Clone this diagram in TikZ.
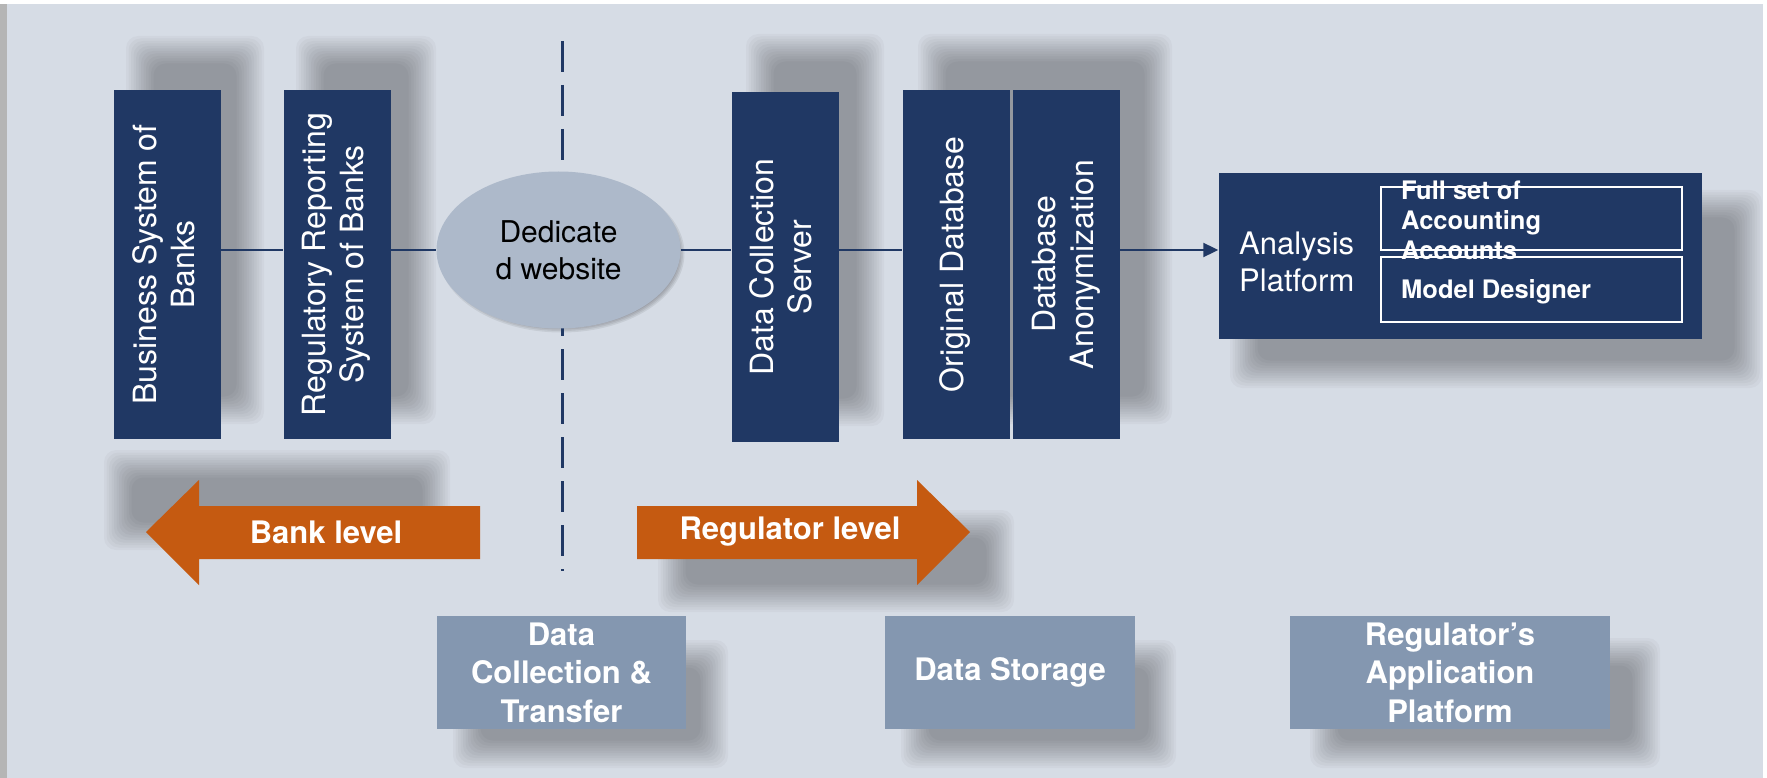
\documentclass[tikz,border=0pt]{standalone}
\usepackage{graphicx}
\usepackage{fontspec}
\setmainfont{TeX Gyre Heros}
\usetikzlibrary{arrows.meta,shapes.geometric}

\definecolor{navy}{RGB}{32,56,100}
\definecolor{paper}{RGB}{214,220,229}
\definecolor{oval}{RGB}{173,185,202}
\definecolor{slate}{RGB}{132,151,176}
\definecolor{rust}{RGB}{197,90,17}
\definecolor{edge}{RGB}{181,181,181}

\newcommand{\vlines}[1]{\rotatebox{90}{\begin{tabular}{@{}c@{}}#1\end{tabular}}}
% soft shadow: outer corners of the haze
\newcommand{\haze}[4]{%
  \foreach \k in {0,...,11}
    \fill[black, opacity=0.027, rounded corners=12pt]
      ({#1+2.5*\k},{#2+2.5*\k}) rectangle ({#3-2.5*\k},{#4-2.5*\k});}

\tikzset{
  sysbox/.style={fill=navy, text=white, inner sep=0pt, minimum width=107pt,
    minimum height=349pt, font=\fontsize{32}{38}\selectfont},
  stagebox/.style={fill=slate, text=white, inner sep=0pt, minimum height=113pt,
    align=center, font=\fontsize{31}{38.5}\selectfont\bfseries},
  subbox/.style={draw=white, line width=2pt, minimum width=301pt, inner sep=0pt},
  link/.style={draw=navy, line width=2pt},
  cutline/.style={draw=navy, line width=3pt, dash pattern=on 31pt off 13pt},
  leveltext/.style={text=white, font=\fontsize{31}{37}\selectfont\bfseries},
}

\begin{document}
\begin{tikzpicture}[x=1pt,y=-1pt]

  % Page and backdrop.
  \useasboundingbox (0,0) rectangle (1767,778);
  \fill[white] (0,0) rectangle (1767,778);
  \fill[paper] (7,4) rectangle (1763,778);
  \fill[edge] (0,4) rectangle (7,778);

  % Shadows.
  \haze{126}{36}{264}{424}
  \haze{296}{36}{436}{424}
  \haze{746}{34}{884}{426}
  \haze{918}{34}{1172}{424}
  \haze{1230}{190}{1762}{388}
  \haze{104}{450}{450}{550}
  \haze{658}{510}{1014}{612}
  \haze{453}{640}{728}{768}
  \haze{901}{640}{1176}{768}
  \haze{1310}{638}{1660}{768}
  \foreach \k in {0,...,3}
    \fill[black, opacity=0.07] (561.5,253.5)
      ellipse [x radius={(123-\k*1.5)*1pt}, y radius={(79-\k*1.5)*1pt}];

  % Border between bank and regulator.
  \coordinate (cut top) at (562,41);
  \coordinate (cut bottom) at (562,571);
  \draw[cutline] (cut top) -- (cut bottom);

  % Systems, left to right.
  \node[sysbox] (bsb) at (167.5,264.5) {\vlines{Business System of\\Banks}};
  \node[sysbox] (rrs) at (337,264.5) {\vlines{Regulatory Reporting\\System of Banks}};
  \node[ellipse, fill=oval, minimum width=244pt, minimum height=157pt, inner sep=0pt,
    align=center, font=\fontsize{30}{37}\selectfont] (web) at (558.5,250) {Dedicate\\d website};
  \node[sysbox, minimum height=350pt] (dcs) at (785,267) {\vlines{Data Collection\\Server}};
  \node[sysbox] (odb) at (956,264.5) {\vlines{Original Database}};
  \node[sysbox] (anon) at (1066.5,264.5) {\vlines{Database\\Anonymization}};

  % Analysis platform.
  \node[fill=navy, minimum width=483pt, minimum height=166pt, inner sep=0pt] (ana) at (1460,256) {};
  \node[anchor=west, align=left, text=white, inner sep=0pt,
    font=\fontsize{31}{37}\selectfont] (ana text) at (1239,261.5) {Analysis\\Platform};
  \node[subbox, minimum height=63pt] (fsa) at (1531,218.3) {};
  \node[subbox, minimum height=65pt] (mdd) at (1531,289.5) {};
  \node[anchor=west, align=left, text=white, inner sep=0pt,
    font=\fontsize{25.5}{30}\selectfont\bfseries] (fsa text) at (1401,220) {Full set of\\Accounting\\Accounts};
  \node[anchor=west, text=white, inner sep=0pt,
    font=\fontsize{25.5}{30}\selectfont\bfseries] (mdd text) at (1401,292) {Model Designer};

  % Connectors.
  \draw[link] (bsb.east |- web) -- (rrs.west |- web);
  \draw[link] (rrs.east |- web) -- (web.west);
  \draw[link] (web.east) -- (dcs.west |- web);
  \draw[link] (dcs.east |- web) -- (odb.west |- web);
  \draw[link, -{Triangle[length=15pt,width=14pt]}] (anon.east |- web) -- (ana.west |- web);

  % Level arrows.
  \fill[rust] (146,532) -- (199,480) -- (199,506) -- (480,506) -- (480,559) -- (199,559) -- (199,585) -- cycle;
  \node[leveltext] (bank) at (326,532) {Bank level};
  \fill[rust] (637,506) -- (917,506) -- (917,480) -- (970,532) -- (917,585) -- (917,559) -- (637,559) -- cycle;
  \node[leveltext] (reg) at (790,532) {Regulator level};

  % Stages.
  \node[stagebox, minimum width=249pt] (dct) at (561.5,672.5) {Data\\Collection \&\\Transfer};
  \node[stagebox, minimum width=250pt] (dst) at (1010,672.5) {Data Storage};
  \node[stagebox, minimum width=320pt] (rap) at (1450,672.5) {Regulator’s\\Application\\Platform};

\end{tikzpicture}
\end{document}
